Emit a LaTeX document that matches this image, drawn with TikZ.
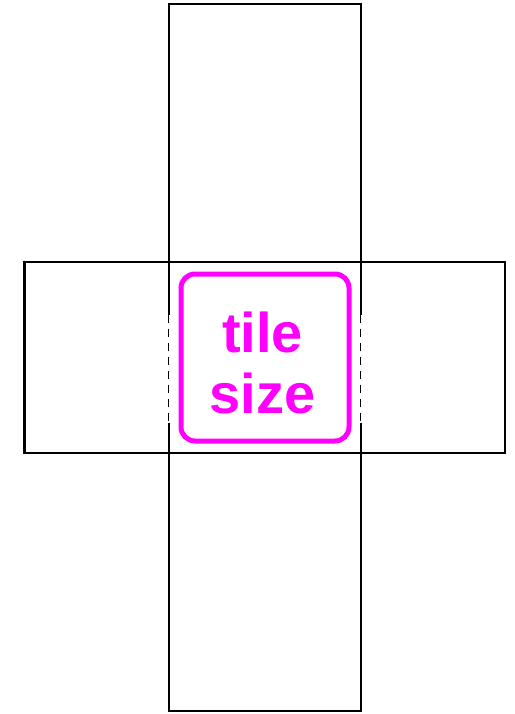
\documentclass[tikz,border=0pt]{standalone}
\usepackage{fontspec}
\setmainfont{Liberation Sans}
\usepackage{tikz}
\definecolor{tilemagenta}{RGB}{255,0,255}

\begin{document}
\begin{tikzpicture}[x=1pt,y=-1pt,
    edge/.style={line width=2.2pt,black},
    seam/.style={line width=1.5pt,black,dash pattern=on 8pt off 6pt},
    tilebox/.style={draw=tilemagenta,line width=5pt,rounded corners=14pt,
        minimum width=168pt,minimum height=167pt,inner sep=0pt},
    tiletext/.style={text=tilemagenta,font=\bfseries\fontsize{56}{61}\selectfont,
        align=center,inner sep=0pt}]
    \useasboundingbox (0,0) rectangle (514,714);

    % --- 1. 邊界 ---
    \def\xL{168.7}
    \def\xR{360.7}
    \def\yT{4}
    \def\yB{711.3}
    \def\xA{24.5}
    \def\xB{505}
    \def\yA{262}
    \def\yC{453}

    % --- 2. 橫向矩形 ---
    \draw[edge] (\xA,\yA) rectangle (\xB,\yC);

    % --- 3. 縱向矩形 (中間為虛線) ---
    \draw[edge] (\xL,315) -- (\xL,\yT) -- (\xR,\yT) -- (\xR,315);
    \draw[edge] (\xL,423) -- (\xL,\yB) -- (\xR,\yB) -- (\xR,423);
    \draw[seam] (\xL,315) -- (\xL,423);
    \draw[seam] (\xR,315) -- (\xR,423);

    % --- 4. tile size ---
    \node[tilebox] (box) at (265,357.5) {};
    \node[tiletext, anchor=base] (lbl) at (262.5,413) {tile\\size};
\end{tikzpicture}
\end{document}
